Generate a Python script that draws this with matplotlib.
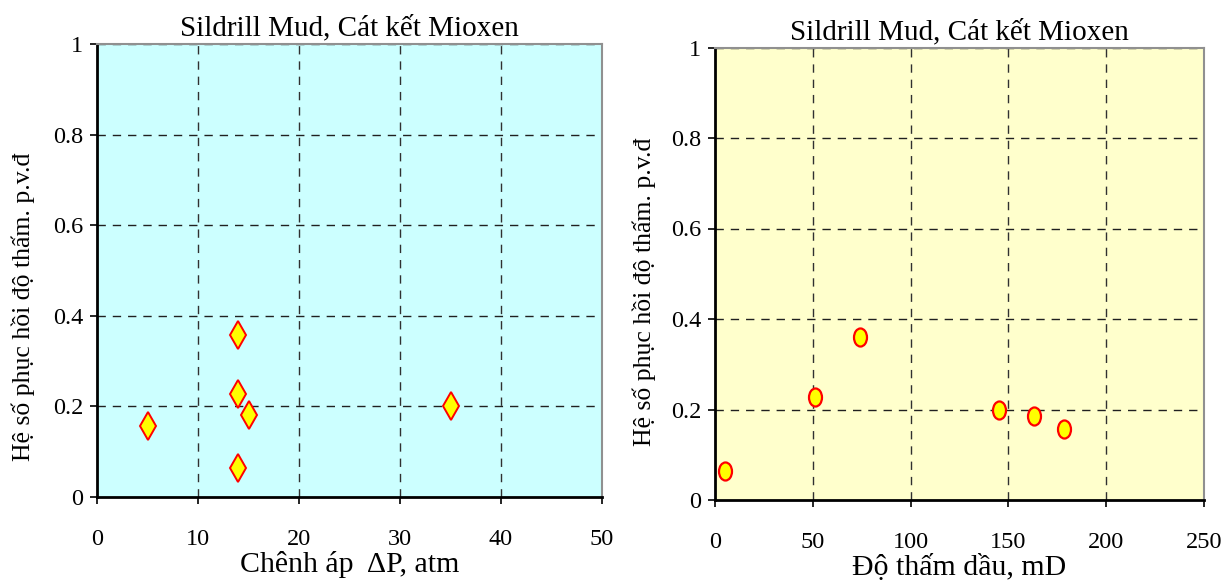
import matplotlib
matplotlib.use("Agg")
import matplotlib.pyplot as plt
from matplotlib.path import Path
from matplotlib.transforms import Affine2D

plt.rcParams['font.family'] = ['Liberation Serif', 'DejaVu Serif']

# data
title = "Sildrill Mud, Cát kết Mioxen"
ylabel = "Hệ số phục hồi độ thấm. p.v.đ"

dp = [5, 14, 14, 15, 14, 35]                 # Chênh áp, atm
rec_dp = [0.157, 0.357, 0.228, 0.181, 0.063, 0.200]

perm = [5, 51, 74, 145, 163, 178.5]          # Độ thấm dầu, mD
rec_perm = [0.065, 0.227, 0.360, 0.200, 0.185, 0.158]

yticks = [0, 0.2, 0.4, 0.6, 0.8, 1]
ytick_labels = ["0", "0.2", "0.4", "0.6", "0.8", "1"]
xticks_dp = [0, 10, 20, 30, 40, 50]
xticks_perm = [0, 50, 100, 150, 200, 250]

W, H = 1226, 587
fig = plt.figure(figsize=(W / 100, H / 100), dpi=100)


def box(l, r, t, b):
    return [l / W, (H - b) / H, (r - l) / W, (b - t) / H]


ax1 = fig.add_axes(box(97, 602, 44, 497))
ax2 = fig.add_axes(box(715, 1204, 47.5, 500))

ellipse = Path.unit_circle().transformed(Affine2D().scale(0.72, 1.0))


def style(ax, bg, xticks, xlim, xlabel, ylab_pos):
    ax.set_facecolor(bg)
    ax.set_xlim(*xlim)
    ax.set_ylim(0, 1)
    ax.set_xticks(xticks)
    ax.set_yticks(yticks)
    ax.set_yticklabels(ytick_labels)
    ax.tick_params(axis='both', direction='out', length=5, width=1.2,
                   labelsize=17.5, color='black')
    ax.tick_params(axis='x', pad=18)
    ax.tick_params(axis='y', pad=5)
    for g in xticks[1:-1]:
        ax.axvline(g, color='#303030', lw=1, ls=(0, (6, 5)), zorder=1)
    for g in yticks[1:]:
        ax.axhline(g, color='#202020', lw=1, ls=(0, (6, 5)), zorder=1)
    for s in ('left', 'bottom'):
        ax.spines[s].set_color('black')
        ax.spines[s].set_linewidth(2)
    for s in ('top', 'right'):
        ax.spines[s].set_color('#909090')
        ax.spines[s].set_linewidth(1.5)
    ax.set_title(title, fontsize=21, pad=6)
    ax.set_xlabel(xlabel, fontsize=21.5, labelpad=1)
    ax.set_ylabel(ylabel, fontsize=18.5)
    ax.yaxis.set_label_coords(*ylab_pos)


style(ax1, '#CCFFFF', xticks_dp, (0, 50), "Chênh áp  ΔP, atm", (-0.122, 0.42))
style(ax2, '#FFFFCC', xticks_perm, (0, 250), "Độ thấm dầu, mD", (-0.12, 0.46))

ax1.plot(dp, rec_dp, ls='none', marker='d', markersize=14,
         markerfacecolor='#FFFF00', markeredgecolor='#FF0000',
         markeredgewidth=1.4, zorder=3)
ax2.plot(perm, rec_perm, ls='none', marker=ellipse, markersize=13,
         markerfacecolor='#FFFF00', markeredgecolor='#FF0000',
         markeredgewidth=1.6, zorder=3)

fig.savefig("out.png", dpi=100)
